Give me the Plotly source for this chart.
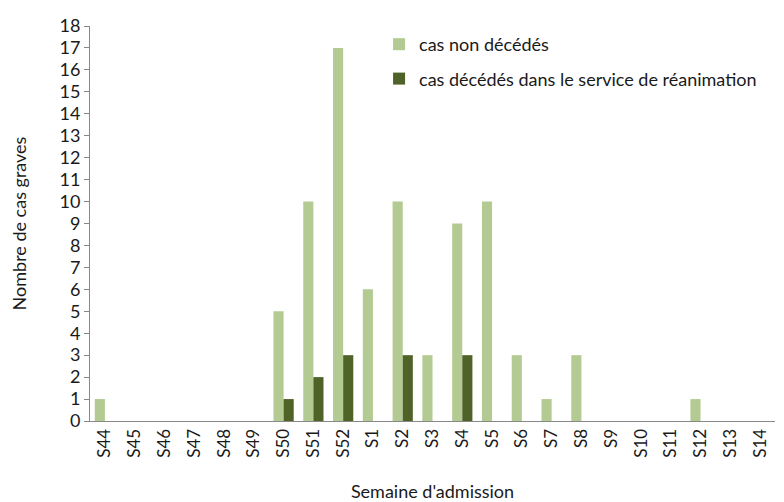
import plotly.graph_objects as go

# ========== DATA ==========
semaines = ['S44', 'S45', 'S46', 'S47', 'S48', 'S49', 'S50', 'S51', 'S52',
            'S1', 'S2', 'S3', 'S4', 'S5', 'S6', 'S7', 'S8', 'S9', 'S10',
            'S11', 'S12', 'S13', 'S14']
non_decedes = [1, 0, 0, 0, 0, 0, 5, 10, 17, 6, 10, 3, 9, 10, 3, 1, 3, 0, 0, 0, 1, 0, 0]
decedes = [0, 0, 0, 0, 0, 0, 1, 2, 3, 0, 3, 0, 3, 0, 0, 0, 0, 0, 0, 0, 0, 0, 0]
y_ticks = list(range(0, 19))

FONT = 'Lato, Noto Sans, sans-serif'

fig = go.Figure()
fig.add_trace(go.Bar(
    x=semaines, y=non_decedes,
    name='cas non décédés',
    legendgroup='non_decedes',
    marker=dict(color='#B3CB92', line=dict(width=0)),
))
fig.add_trace(go.Bar(
    x=semaines, y=decedes,
    name='cas décédés dans le service de réanimation',
    legendgroup='decedes',
    marker=dict(color='#4F6228', line=dict(width=0)),
))

# page body has an 8px margin, so the figure is sized 8px smaller
fig.update_layout(
    barmode='group',
    bargap=0.32,
    bargroupgap=0,
    width=776, height=494,
    margin=dict(l=82, r=9, t=18, b=81, autoexpand=False),
    paper_bgcolor='white',
    plot_bgcolor='white',
    font=dict(family=FONT, color='#1a1a1a'),
    legend=dict(
        x=0.422, y=1.0, xanchor='left', yanchor='top',
        font=dict(size=18, family=FONT, color='#1a1a1a'),
        tracegroupgap=8,
        itemwidth=30,
        bgcolor='rgba(0,0,0,0)',
    ),
    xaxis=dict(
        automargin=False,
        tickangle=-90,
        tickfont=dict(size=17),
        showgrid=False,
        showline=True, linecolor='#888888', linewidth=1,
        ticks='',
        title=dict(text="Semaine d'admission", font=dict(size=18), standoff=28),
    ),
    yaxis=dict(
        automargin=False,
        range=[0, 18],
        tickvals=y_ticks,
        tickfont=dict(size=18),
        showgrid=False,
        zeroline=False,
        showline=True, linecolor='#888888', linewidth=1,
        ticks='outside', ticklen=5, tickcolor='#888888',
        title=dict(text='Nombre de cas graves', font=dict(size=18), standoff=28),
    ),
)

fig.write_html("out.html")
